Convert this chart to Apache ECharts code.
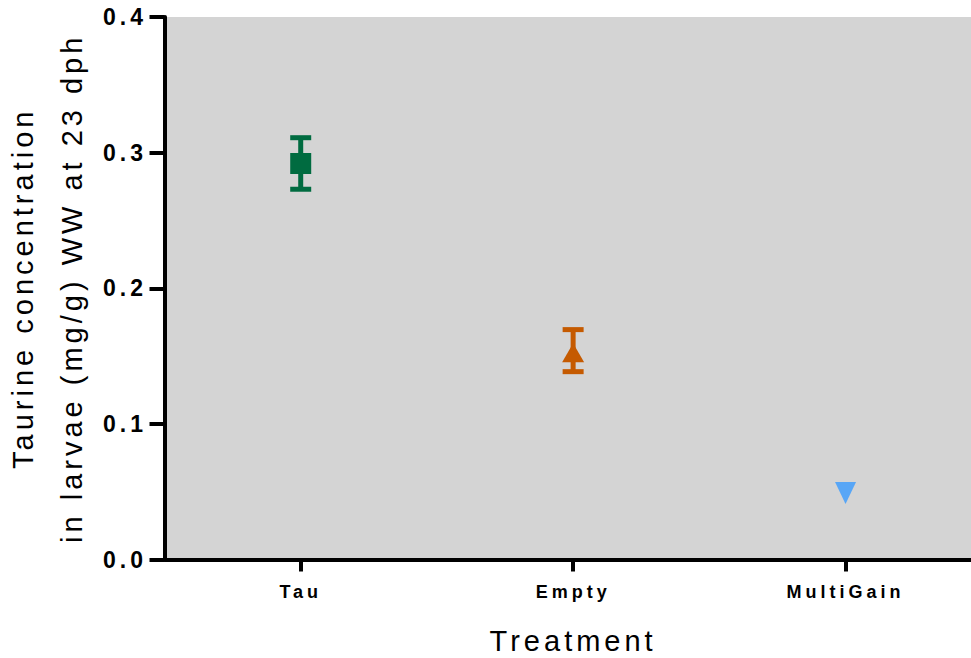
<!DOCTYPE html>
<html>
<head>
<meta charset="utf-8">
<title>Taurine concentration by treatment</title>
<script src="https://cdn.jsdelivr.net/npm/echarts@6/dist/echarts.min.js"></script>
<style>
  html, body { margin: 0; padding: 0; background: #ffffff; }
  #chart { width: 971px; height: 658px; }
  /* wide tracking on all chart text */
  #chart text { letter-spacing: 4px; }
</style>
</head>
<body>
<div id="chart"></div>
<script>
// Treatment groups and their measured taurine (mean and SD, mg/g WW)
const treatments = ['Tau', 'Empty', 'MultiGain'];
const meanValues = [0.292, 0.154, 0.049];
const sdValues = [0.019, 0.0155, null];
const yTicks = [0, 0.1, 0.2, 0.3, 0.4];

const colors = ['#006b40', '#c55a00', '#58a6f6'];
const symbols = ['rect', 'triangle', 'triangle'];
const symbolSizes = [[21, 21], [22, 19], [21, 22]];
const symbolRotates = [0, 0, 180];
const symbolOffsets = [[0, 0], [0, 2], [0, 0]];

const FONT = '"Liberation Sans", Arial, sans-serif';

const chart = echarts.init(document.getElementById('chart'), null, { renderer: 'svg' });

// error bars: a vertical stem with horizontal caps at mean ± SD
function renderErrorBar(params, api) {
  const i = api.value(0);
  const lo = api.value(1);
  const hi = api.value(2);
  const pTop = api.coord([i, hi]);
  const pBot = api.coord([i, lo]);
  const capHalf = 10.5;
  const color = colors[i];
  const style = { stroke: color, lineWidth: 5, fill: null };
  return {
    type: 'group',
    children: [
      { type: 'line', shape: { x1: pTop[0], y1: pTop[1], x2: pBot[0], y2: pBot[1] }, style: style },
      { type: 'line', shape: { x1: pTop[0] - capHalf, y1: pTop[1], x2: pTop[0] + capHalf, y2: pTop[1] }, style: style },
      { type: 'line', shape: { x1: pBot[0] - capHalf, y1: pBot[1], x2: pBot[0] + capHalf, y2: pBot[1] }, style: style }
    ]
  };
}

const errorData = [];
treatments.forEach(function (t, i) {
  if (sdValues[i] != null) {
    errorData.push([i, meanValues[i] - sdValues[i], meanValues[i] + sdValues[i]]);
  }
});

const pointData = treatments.map(function (t, i) {
  return {
    value: [i, meanValues[i]],
    symbol: symbols[i],
    symbolSize: symbolSizes[i],
    symbolRotate: symbolRotates[i],
    symbolOffset: symbolOffsets[i],
    itemStyle: { color: colors[i], opacity: 1 }
  };
});

chart.setOption({
  animation: false,
  grid: {
    left: 164.5,
    right: -10.75,
    top: 17,
    bottom: 98.5,
    containLabel: false,
    outerBoundsMode: 'none',
    show: true,
    backgroundColor: '#d4d4d4',
    borderWidth: 0
  },
  xAxis: {
    type: 'category',
    data: treatments,
    boundaryGap: true,
    name: 'Treatment',
    nameLocation: 'middle',
    nameGap: 67,
    nameMoveOverlap: false,
    nameTextStyle: { fontFamily: FONT, fontSize: 29, color: '#000' },
    axisLine: { show: true, lineStyle: { color: '#000', width: 4 } },
    axisTick: { show: true, alignWithLabel: true, length: 12, lineStyle: { color: '#000', width: 4 } },
    axisLabel: { fontFamily: FONT, fontSize: 18, fontWeight: 'bold', color: '#000', margin: 23 },
    splitLine: { show: false }
  },
  yAxis: {
    type: 'value',
    min: yTicks[0],
    max: yTicks[yTicks.length - 1],
    interval: 0.1,
    name: 'Taurine concentration\nin larvae (mg/g) WW at 23 dph',
    nameLocation: 'middle',
    nameRotate: 90,
    nameGap: 68,
    nameMoveOverlap: false,
    nameTextStyle: { fontFamily: FONT, fontSize: 29, color: '#000', lineHeight: 49 },
    axisLine: { show: true, lineStyle: { color: '#000', width: 4 } },
    axisTick: { show: true, length: 15, lineStyle: { color: '#000', width: 4 } },
    axisLabel: {
      fontFamily: FONT, fontSize: 23, fontWeight: 'bold', color: '#000', margin: 17.5,
      formatter: function (v) { return v.toFixed(1); }
    },
    splitLine: { show: false }
  },
  series: [
    {
      type: 'custom',
      renderItem: renderErrorBar,
      data: errorData,
      encode: { x: 0, y: [1, 2] },
      z: 2
    },
    {
      type: 'scatter',
      data: pointData,
      z: 3
    }
  ]
});
</script>
</body>
</html>
